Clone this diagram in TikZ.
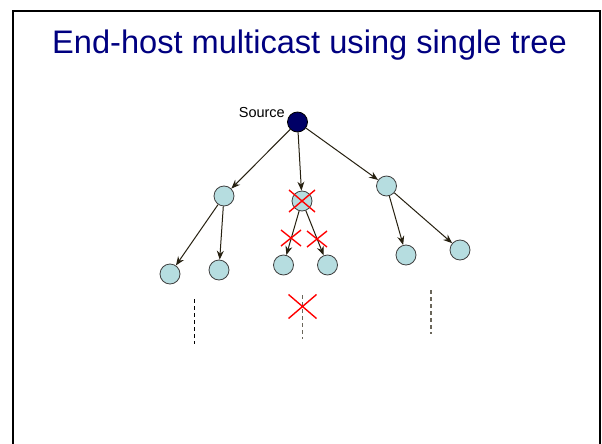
\documentclass[tikz,border=0pt]{standalone}
\usepackage{fontspec}
\setmainfont{Liberation Sans}
\usetikzlibrary{arrows.meta}
\definecolor{titleblue}{HTML}{000080}
\definecolor{srcfill}{HTML}{000066}
\definecolor{hostfill}{HTML}{B6DDE0}
\definecolor{edgecol}{HTML}{262010}
\definecolor{dashgray}{HTML}{6A665A}
\tikzset{
  host/.style={circle, draw=black!75, line width=0.8pt, fill=hostfill, minimum size=20pt, inner sep=0pt},
  srchost/.style={host, fill=srcfill, draw=black},
  edge/.style={draw=edgecol, line width=1pt, -{Stealth[length=9pt,width=7pt,inset=3pt]}},
  fail/.style={draw=red, line width=1.4pt},
  trail/.style={draw=dashgray, line width=1.1pt, dash pattern=on 4pt off 3pt},
}
\begin{document}
\begin{tikzpicture}[x=1pt,y=-1pt]
\useasboundingbox (0,0) rectangle (602,444);
\fill[white] (0,0) rectangle (602,444);
% slide frame
\draw[line width=2.5pt] (13,460) -- (13,11) -- (600,11) -- (600,460);
% title
\node[text=titleblue, font=\fontsize{32.6}{36}\selectfont, anchor=base] (title) at (309.5,53) {End-host multicast using single tree};
% nodes
\node[srchost] (S) at (297.5,122) {};
\node[font=\fontsize{14.5}{16}\selectfont, anchor=base east, inner sep=0pt] (srclabel) at (285,117) {Source};
\node[host] (A) at (224,196) {};
\node[host] (B) at (302,201) {};
\node[host] (C) at (386.5,186) {};
\node[host] (L1) at (170,274) {};
\node[host] (L2) at (219,270) {};
\node[host] (M1) at (283.5,265) {};
\node[host] (M2) at (327.5,265) {};
\node[host] (R1) at (406,255) {};
\node[host] (R2) at (460,250) {};
% edges
\draw[edge] (S) -- (A);
\draw[edge] (S) -- (B);
\draw[edge] (S) -- (C);
\draw[edge] (A) -- (L1);
\draw[edge] (A) -- (L2);
\draw[edge] (B) -- (M1);
\draw[edge] (B) -- (M2);
\draw[edge] (C) -- (R1);
\draw[edge] (C) -- (R2);
% dashed trails
\coordinate (t1a) at (194.5,299); \coordinate (t1b) at (194.5,344);
\coordinate (t2a) at (302.5,295); \coordinate (t2b) at (302.5,339);
\coordinate (t3a) at (431,290);   \coordinate (t3b) at (431,334);
\draw[trail, draw=black] (t1a) -- (t1b);
\draw[trail] (t2a) -- (t2b);
\draw[trail] (t3a) -- (t3b);
% failure crosses
\draw[fail] (B.center) ++(-13,-11) -- ++(26,22) (B.center) ++(-13,11) -- ++(26,-22);
\coordinate (x1) at (291,238);
\coordinate (x2) at (317,239);
\coordinate (x3) at (302.5,306.5);
\draw[fail] (x1) ++(-10,-8) -- ++(20,16) (x1) ++(-10,8) -- ++(20,-16);
\draw[fail] (x2) ++(-10,-8) -- ++(20,16) (x2) ++(-10,8) -- ++(20,-16);
\draw[fail] (x3) ++(-14,-12) -- ++(28,24) (x3) ++(-14,12) -- ++(28,-24);
\end{tikzpicture}
\end{document}
